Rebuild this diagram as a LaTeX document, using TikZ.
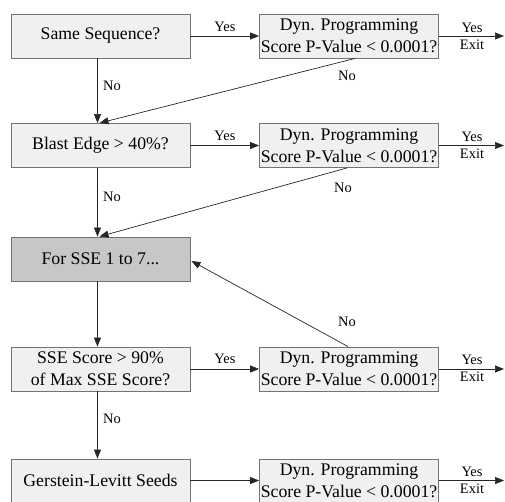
\documentclass[tikz,border=0pt]{standalone}
\usepackage{fontspec}
\setmainfont{Liberation Serif}
\usetikzlibrary{arrows.meta,calc}
\begin{document}
\begin{tikzpicture}[x=1bp,y=-1bp,
  box/.style={draw=black!55, fill=black!6, line width=0.9bp, minimum width=179bp, minimum height=44bp, inner sep=0pt, align=center, font=\fontsize{17.8}{22}\selectfont},
  dark/.style={box, fill=black!22},
  arr/.style={-{Triangle[length=9bp,width=7bp]}, line width=0.7bp, draw=black!85},
  lbl/.style={font=\fontsize{14.5}{16}\selectfont, inner sep=0pt}]
\useasboundingbox (0,0) rectangle (505,502);

\node[box] (L1) at (100.5,36) {Same Sequence?};
\node[box] (R1) at (349,36) {Dyn. Programming\\Score P-Value < 0.0001?};
\node[box] (L2) at (100.5,145.5) {Blast Edge > 40\%?};
\node[box] (R2) at (349,145.5) {Dyn. Programming\\Score P-Value < 0.0001?};
\node[dark] (L3) at (100.5,259) {For SSE 1 to 7...};
\node[box] (L4) at (100.5,369) {SSE Score > 90\%\\of Max SSE Score?};
\node[box] (R4) at (349,369) {Dyn. Programming\\Score P-Value < 0.0001?};
\node[box, minimum height=43bp] (L5) at (100.5,480.5) {Gerstein-Levitt Seeds};
\node[box, minimum height=43bp] (R5) at (349,480.5) {Dyn. Programming\\Score P-Value < 0.0001?};

\coordinate (E1) at (504,36);
\coordinate (E2) at (504,145.5);
\coordinate (E4) at (504,369);
\coordinate (E5) at (504,480.5);

% horizontal yes arrows
\draw[arr] (L1.east) -- (R1.west);
\draw[arr] (L2.east) -- (R2.west);
\draw[arr] (L4.east) -- (R4.west);
\draw[arr] (L5.east) -- (R5.west);
\node[lbl] (y1) at (225,27) {Yes};
\node[lbl] (y2) at (225,136) {Yes};
\node[lbl] (y4) at (225,359) {Yes};

% exit arrows
\draw[arr] (R1.east) -- (E1);
\draw[arr] (R2.east) -- (E2);
\draw[arr] (R4.east) -- (E4);
\draw[arr] (R5.east) -- (E5);
\node[lbl] (ey1) at (472,28) {Yes};
\node[lbl] (ex1) at (472,45) {Exit};
\node[lbl] (ey2) at (472,137) {Yes};
\node[lbl] (ex2) at (472,154) {Exit};
\node[lbl] (ey4) at (472,360) {Yes};
\node[lbl] (ex4) at (472,377) {Exit};
\node[lbl] (ey5) at (472,472) {Yes};
\node[lbl] (ex5) at (472,489) {Exit};

% down arrows
\draw[arr] ($(L1.south)+(-3,0)$) -- ($(L2.north)+(-3,0)$);
\draw[arr] ($(L2.south)+(-3,0)$) -- ($(L3.north)+(-3,0)$);
\draw[arr] ($(L3.south)+(-3,0)$) -- ($(L4.north)+(-3,0)$);
\draw[arr] ($(L4.south)+(-3,0)$) -- ($(L5.north)+(-3,0)$);
\node[lbl, anchor=west] (n1) at (103,86) {No};
\node[lbl, anchor=west] (n2) at (103,197) {No};
\node[lbl, anchor=west] (n4) at (103,419) {No};

% diagonal No arrows
\draw[arr] ($(R1.south)+(6,0)$) -- ($(L2.north)+(-1,0)$);
\draw[arr] ($(R2.south)+(-2,0)$) -- ($(L3.north)+(-1,0)$);
\draw[arr] ($(R4.north)+(-1,0)$) -- ($(L3.east)+(1,2)$);
\node[lbl] (d1) at (347,76) {No};
\node[lbl] (d2) at (343,188) {No};
\node[lbl] (d4) at (347,322) {No};
\end{tikzpicture}
\end{document}
